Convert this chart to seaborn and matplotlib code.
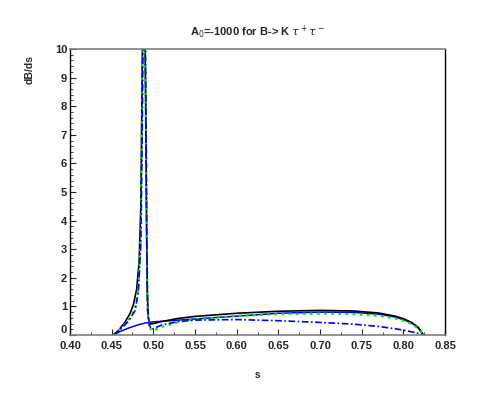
import numpy as np
import pandas as pd
import matplotlib
matplotlib.use("Agg")
import matplotlib.pyplot as plt
from matplotlib.ticker import MultipleLocator
import seaborn as sns

sns.set_style("ticks")
plt.rcParams['font.family'] = ['Liberation Sans', 'DejaVu Sans']

# ---- data ----
s_black = [0.452, 0.458, 0.466, 0.472, 0.476, 0.480, 0.483, 0.485, 0.4862, 0.4872,
           0.4898, 0.4908, 0.4918, 0.4928, 0.494, 0.496, 0.50, 0.51, 0.53, 0.55,
           0.60, 0.65, 0.70, 0.74, 0.77, 0.79, 0.80, 0.81, 0.818, 0.824]
y_black = [0.0, 0.15, 0.45, 0.75, 1.05, 1.6, 2.6, 4.5, 8.0, 11.0,
           11.0, 8.0, 4.0, 1.5, 0.6, 0.38, 0.40, 0.47, 0.58, 0.65,
           0.76, 0.83, 0.86, 0.84, 0.77, 0.66, 0.57, 0.44, 0.26, 0.0]

s_green = [0.452, 0.46, 0.47, 0.478, 0.482, 0.485, 0.4865, 0.4875,
           0.4900, 0.4910, 0.4920, 0.493, 0.495, 0.498, 0.50, 0.51, 0.53, 0.55,
           0.60, 0.65, 0.70, 0.74, 0.77, 0.79, 0.80, 0.81, 0.818, 0.824]
y_green = [0.0, 0.2, 0.5, 0.9, 1.6, 3.5, 8.0, 11.0,
           11.0, 8.0, 3.5, 1.0, 0.3, 0.15, 0.16, 0.28, 0.45, 0.55,
           0.67, 0.73, 0.75, 0.73, 0.67, 0.58, 0.50, 0.38, 0.22, 0.0]

s_bdash = [0.452, 0.46, 0.47, 0.478, 0.482, 0.485, 0.4868, 0.4878,
           0.4902, 0.4912, 0.4922, 0.493, 0.495, 0.498, 0.50, 0.51, 0.53, 0.55,
           0.60, 0.65, 0.70, 0.74, 0.77, 0.79, 0.80, 0.81, 0.818, 0.824]
y_bdash = [0.0, 0.18, 0.48, 0.85, 1.5, 3.2, 7.5, 11.0,
           11.0, 7.5, 3.2, 0.9, 0.35, 0.2, 0.22, 0.35, 0.47, 0.52,
           0.54, 0.50, 0.44, 0.38, 0.30, 0.22, 0.17, 0.11, 0.06, 0.0]

s_bsolid = [0.452, 0.46, 0.47, 0.48, 0.49, 0.50, 0.52, 0.55, 0.60, 0.65,
            0.70, 0.74, 0.77, 0.79, 0.80, 0.81, 0.818, 0.824]
y_bsolid = [0.0, 0.12, 0.24, 0.34, 0.42, 0.46, 0.50, 0.56, 0.66, 0.76,
            0.80, 0.79, 0.73, 0.63, 0.54, 0.42, 0.25, 0.0]

x_ticks = [0.40, 0.45, 0.50, 0.55, 0.60, 0.65, 0.70, 0.75, 0.80, 0.85]
x_tick_labels = ["0.40", "0.45", "0.50", "0.55", "0.60", "0.65", "0.70", "0.75", "0.80", "0.85"]
y_ticks = list(range(0, 11))

fig = plt.figure(figsize=(4.85, 3.97), dpi=100)
ax = fig.add_axes([70/485, 1-335/397, 375/485, 286/397])

def draw(s, y, color, ls, lw):
    df = pd.DataFrame({"s": s, "v": y})
    sns.lineplot(data=df, x="s", y="v", ax=ax, color=color, linestyle=ls,
                 linewidth=lw, sort=False, estimator=None)

draw(s_bsolid, y_bsolid, "#0000ff", "-", 1.1)
draw(s_black, y_black, "black", "-", 1.2)
draw(s_green, y_green, "#00ee00", (0, (1.2, 2.0)), 1.6)
draw(s_bdash, y_bdash, "#0000ff", (0, (4, 1.5, 1, 1.5)), 1.2)

ax.set_xlim(0.40, 0.85)
ax.set_ylim(0, 10)
ax.set_xticks(x_ticks)
ax.set_xticklabels(x_tick_labels)
ax.set_yticks(y_ticks)
ax.xaxis.set_minor_locator(MultipleLocator(0.025))
ax.yaxis.set_minor_locator(MultipleLocator(0.2))
ax.tick_params(which="both", direction="in", top=False, right=False)
ax.tick_params(which="major", length=4, width=0.8, labelsize=8, pad=2)
ax.tick_params(axis="x", which="major", pad=4)
ax.tick_params(which="minor", length=2, width=0.6)
for lab in ax.get_xticklabels() + ax.get_yticklabels():
    lab.set_fontweight("bold")
# lift the "0" y tick label slightly so it clears "0.40"
ax.get_yticklabels()[0].set_verticalalignment("bottom")

for side in ["top", "bottom"]:
    ax.spines[side].set_color("#808080")
    ax.spines[side].set_linewidth(1.2)
for side in ["left", "right"]:
    ax.spines[side].set_color("black")
    ax.spines[side].set_linewidth(1.0)

ax.set_xlabel("s", fontsize=7, fontweight="bold", labelpad=14)
ax.set_ylabel("dB/ds", fontsize=7.5, fontweight="bold")
ax.yaxis.set_label_coords(-0.095, 0.93)
ax.set_title(r"A$_0$=-1000 for B-> K $\tau^+\tau^-$", fontsize=8,
             fontweight="bold", pad=9)

fig.savefig("out.png", dpi=100)
